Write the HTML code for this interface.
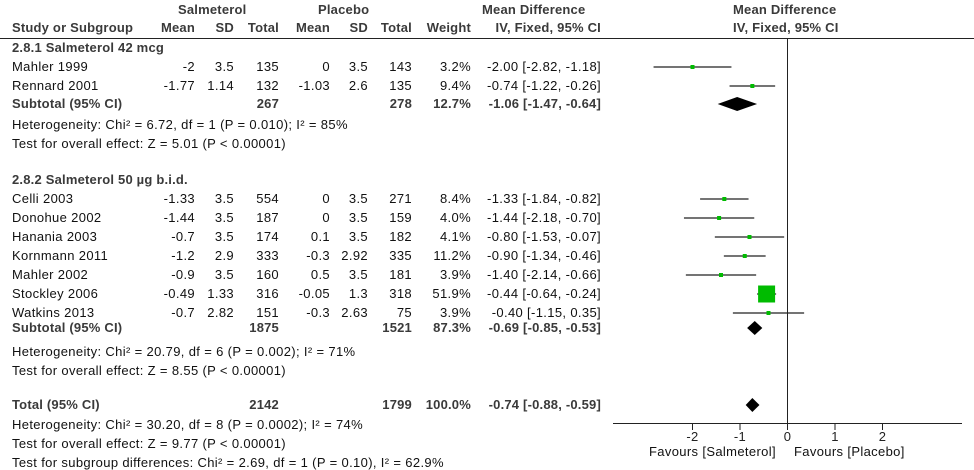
<!DOCTYPE html>
<html><head><meta charset="utf-8">
<style>
body{margin:0;background:#fff;width:974px;height:468px;overflow:hidden;position:relative;font-family:"Liberation Sans",Arial,sans-serif;font-size:13px;letter-spacing:0.35px;color:#111}
.t{position:absolute;white-space:nowrap;line-height:14px}
.b{font-weight:bold;color:#3a3a3a;letter-spacing:0.2px}
svg{position:absolute;left:0;top:0}
</style></head><body>
<div id="root"></div>
<svg id="plot" width="974" height="468"></svg>
<script>
// data
const studies=["Mahler 1999","Rennard 2001","Celli 2003","Donohue 2002","Hanania 2003","Kornmann 2011","Mahler 2002","Stockley 2006","Watkins 2013"];
const sMean=["-2","-1.77","-1.33","-1.44","-0.7","-1.2","-0.9","-0.49","-0.7"];
const sSD=["3.5","1.14","3.5","3.5","3.5","2.9","3.5","1.33","2.82"];
const sN=["135","132","554","187","174","333","160","316","151"];
const pMean=["0","-1.03","0","0","0.1","-0.3","0.5","-0.05","-0.3"];
const pSD=["3.5","2.6","3.5","3.5","3.5","2.92","3.5","1.3","2.63"];
const pN=["143","135","271","159","182","335","181","318","75"];
const weights=[3.2,9.4,8.4,4.0,4.1,11.2,3.9,51.9,3.9];
const md=[-2.00,-0.74,-1.33,-1.44,-0.80,-0.90,-1.40,-0.44,-0.40];
const lo=[-2.82,-1.22,-1.84,-2.18,-1.53,-1.34,-2.14,-0.64,-1.15];
const hi=[-1.18,-0.26,-0.82,-0.70,-0.07,-0.46,-0.66,-0.24,0.35];
const rowY=[67,86,199,218,237,256,275,294,313];
const subMD=[-1.06,-0.69,-0.74];
const subLo=[-1.47,-0.85,-0.88];
const subHi=[-0.64,-0.53,-0.59];
const subY=[104,328,405];
const ticks=[-2,-1,0,1,2];
const X=v=>787.5+v*47.5;
const root=document.getElementById('root');
const svg=document.getElementById('plot');
const NS='http://www.w3.org/2000/svg';
function txt(s,x,y,cls,right,name){
 const d=document.createElement('div');
 d.className='t '+(cls||'');
 d.textContent=s;
 d.style.top=(y-7)+'px';
 if(right){d.style.right=(974-x)+'px';}else d.style.left=x+'px';
 
 
 root.appendChild(d);
}
function el(tag,attrs,name){
 const e=document.createElementNS(NS,tag);
 for(const k in attrs)e.setAttribute(k,attrs[k]);
 
 
 svg.appendChild(e);return e;
}
txt("Salmeterol",178,10,'b',false,'salmeterol-header');
txt("Placebo",318,10,'b',false,'placebo-header');
txt("Mean Difference",482,10,'b',false,'md-header');
txt("Mean Difference",733,10,'b',false,'md-plot-header');
txt("Study or Subgroup",12,28,'b',false,'study-header');
txt("Mean",195,28,'b',true,'mean-header');
txt("SD",234,28,'b',true,'sd-header');
txt("Total",279,28,'b',true,'total-header');
txt("Mean",330,28,'b',true,'mean-header');
txt("SD",368,28,'b',true,'sd-header');
txt("Total",412,28,'b',true,'total-header');
txt("Weight",471,28,'b',true,'weight-header');
txt("IV, Fixed, 95% CI",601,28,'b',true,'ci-header');
txt("IV, Fixed, 95% CI",733,28,'b',false,'ci-plot-header');
el('line',{x1:0,x2:974,y1:38.5,y2:38.5,stroke:'#222','stroke-width':1},'header-rule');
txt("2.8.1 Salmeterol 42 mcg",12,48,'b',false,'subgroup-title');
txt("2.8.2 Salmeterol 50 µg b.i.d.",12,180,'b',false,'subgroup-title');
const f=v=>(v<0?'-':'')+Math.abs(v).toFixed(2);
for(let i=0;i<studies.length;i++){
 const y=rowY[i];
 txt(studies[i],12,y,'',false,'study-name');
 txt(sMean[i],195,y,'',true,'salmeterol-mean');
 txt(sSD[i],234,y,'',true,'salmeterol-sd');
 txt(sN[i],279,y,'',true,'salmeterol-total');
 txt(pMean[i],330,y,'',true,'placebo-mean');
 txt(pSD[i],368,y,'',true,'placebo-sd');
 txt(pN[i],412,y,'',true,'placebo-total');
 txt(weights[i].toFixed(1)+'%',471,y,'',true,'weight');
 txt(f(md[i])+' ['+f(lo[i])+', '+f(hi[i])+']',601,y,'',true,'effect-ci');
 el('line',{x1:X(lo[i]),x2:X(hi[i]),y1:y,y2:y,stroke:'#222','stroke-width':1.3},'ci-line');
 const s=Math.max(4,17*weights[i]/51.9);
 el('rect',{x:X(md[i])-s/2,y:y-s/2,width:s,height:s,fill:'#00bb00'},'study-square');
}
const subTot=[["267","278","12.7%"],["1875","1521","87.3%"],["2142","1799","100.0%"]];
const subLbl=["Subtotal (95% CI)","Subtotal (95% CI)","Total (95% CI)"];
for(let j=0;j<3;j++){
 const y=subY[j];
 txt(subLbl[j],12,y,'b',false,'subtotal-label');
 txt(subTot[j][0],279,y,'b',true,'subtotal-salmeterol');
 txt(subTot[j][1],412,y,'b',true,'subtotal-placebo');
 txt(subTot[j][2],471,y,'b',true,'subtotal-weight');
 txt(f(subMD[j])+' ['+f(subLo[j])+', '+f(subHi[j])+']',601,y,'b',true,'subtotal-ci');
 const h=7;
 el('polygon',{points:`${X(subLo[j])},${y} ${X(subMD[j])},${y-h} ${X(subHi[j])},${y} ${X(subMD[j])},${y+h}`,fill:'#000'},'pooled-diamond');
}
txt("Heterogeneity: Chi² = 6.72, df = 1 (P = 0.010); I² = 85%",12,125,'',false,'heterogeneity');
txt("Test for overall effect: Z = 5.01 (P < 0.00001)",12,144,'',false,'overall-effect');
txt("Heterogeneity: Chi² = 20.79, df = 6 (P = 0.002); I² = 71%",12,352,'',false,'heterogeneity');
txt("Test for overall effect: Z = 8.55 (P < 0.00001)",12,371,'',false,'overall-effect');
txt("Heterogeneity: Chi² = 30.20, df = 8 (P = 0.0002); I² = 74%",12,425,'',false,'heterogeneity');
txt("Test for overall effect: Z = 9.77 (P < 0.00001)",12,444,'',false,'overall-effect');
txt("Test for subgroup differences: Chi² = 2.69, df = 1 (P = 0.10), I² = 62.9%",12,463,'',false,'subgroup-differences');
el('line',{x1:X(0),x2:X(0),y1:38,y2:423,stroke:'#222','stroke-width':1},'null-line');
el('line',{x1:613,x2:962,y1:423.5,y2:423.5,stroke:'#222','stroke-width':1},'x-axis');
ticks.forEach(t=>{
 el('line',{x1:X(t),x2:X(t),y1:423,y2:430,stroke:'#222','stroke-width':1},'x-tick');
 const e=el('text',{x:X(t),y:441,'text-anchor':'middle','font-size':13,fill:'#222','font-family':'Liberation Sans, sans-serif'},'x-tick-label');
 e.textContent=String(t);
});
txt("Favours [Salmeterol]",649,452,'',false,'favours-salmeterol');
txt("Favours [Placebo]",794,452,'',false,'favours-placebo');
</script>
</body></html>
